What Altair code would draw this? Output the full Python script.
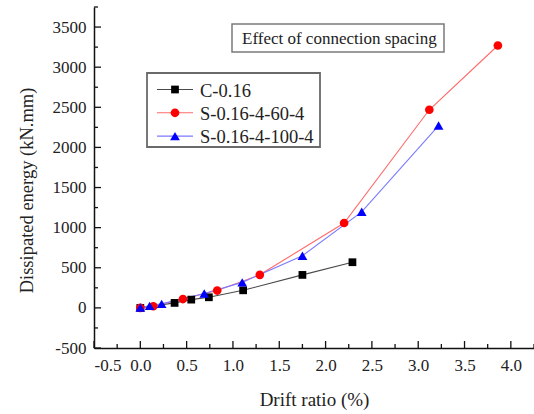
import altair as alt
import pandas as pd

# Series data: drift ratio (%) vs dissipated energy (kN.mm)
c_x = [0.0, 0.37, 0.55, 0.74, 1.11, 1.75, 2.29]
c_y = [0, 62, 103, 132, 219, 411, 569]

s60_x = [0.0, 0.14, 0.46, 0.83, 1.29, 2.20, 3.12, 3.86]
s60_y = [0, 20, 110, 216, 412, 1058, 2469, 3270]

s100_x = [0.0, 0.10, 0.23, 0.69, 1.10, 1.75, 2.39, 3.22]
s100_y = [5, 25, 50, 179, 318, 650, 1197, 2272]

series_names = ["C-0.16", "S-0.16-4-60-4", "S-0.16-4-100-4"]

x_major = [-0.5, 0.0, 0.5, 1.0, 1.5, 2.0, 2.5, 3.0, 3.5, 4.0]
x_minor = [-0.25, 0.25, 0.75, 1.25, 1.75, 2.25, 2.75, 3.25, 3.75, 4.25]
y_major = [-500, 0, 500, 1000, 1500, 2000, 2500, 3000, 3500]
y_minor = [-250, 250, 750, 1250, 1750, 2250, 2750, 3250, 3750]

FONT = "Liberation Serif"
W, H = 440, 341
line_colors = ["#4a4a4a", "#ff6a6a", "#7a7aff"]
point_colors = ["#000000", "#ff0000", "#0000ff"]
shapes = ["square", "circle", "triangle-up"]
sizes = [60, 75, 95]

X_DOMAIN = [-0.5, 4.25]
Y_DOMAIN = [-500, 3750]

# plain hyphen for negative tick labels
X_LABEL = "replace(format(datum.value, '.1f'), '\u2212', '-')"
Y_LABEL = "replace(format(datum.value, 'd'), '\u2212', '-')"


def xenc(field):
    return alt.X(
        f"{field}:Q",
        scale=alt.Scale(domain=X_DOMAIN, nice=False, zero=False),
        axis=alt.Axis(
            title="Drift ratio (%)",
            values=x_major,
            labelExpr=X_LABEL,
            grid=False,
            ticks=False,
            domainColor="#111",
            domainWidth=1.5,
            labelFont=FONT,
            labelFontSize=17,
            labelColor="#222",
            labelPadding=9,
            titleFont=FONT,
            titleFontSize=19,
            titleFontWeight="normal",
            titleColor="#222",
            titleBaseline="middle",
            titleX=220,
            titleY=51,
        ),
    )


def yenc(field):
    return alt.Y(
        f"{field}:Q",
        scale=alt.Scale(domain=Y_DOMAIN, nice=False, zero=False),
        axis=alt.Axis(
            title="Dissipated energy (kN.mm)",
            values=y_major,
            labelExpr=Y_LABEL,
            grid=False,
            ticks=False,
            domainColor="#111",
            domainWidth=1.5,
            labelFont=FONT,
            labelFontSize=17,
            labelColor="#222",
            labelPadding=8,
            titleFont=FONT,
            titleFontSize=18.5,
            titleFontWeight="normal",
            titleColor="#222",
            titleBaseline="middle",
            titleAngle=270,
            titleX=-68,
            titleY=183,
        ),
    )


rows = []
for name, xs, ys in zip(series_names, [c_x, s60_x, s100_x], [c_y, s60_y, s100_y]):
    for xv, yv in zip(xs, ys):
        rows.append({"series": name, "drift": xv, "energy": yv})
df = pd.DataFrame(rows)

layers = []

# Inward tick marks on both axes
xt = pd.DataFrame({"t": x_major + x_minor, "major": [1] * len(x_major) + [0] * len(x_minor)})
yt = pd.DataFrame({"t": y_major + y_minor, "major": [1] * len(y_major) + [0] * len(y_minor)})
for major, length in [(1, 7), (0, 4)]:
    layers.append(
        alt.Chart(xt[xt.major == major]).mark_rule(color="#111", strokeWidth=1.3).encode(
            x=xenc("t"), y=alt.value(H), y2=alt.value(H - length)
        )
    )
    layers.append(
        alt.Chart(yt[yt.major == major]).mark_rule(color="#111", strokeWidth=1.3).encode(
            y=yenc("t"), x=alt.value(0), x2=alt.value(length)
        )
    )

# Lines and markers per series
for i, name in enumerate(series_names):
    sub = df[df.series == name]
    layers.append(
        alt.Chart(sub).mark_line(color=line_colors[i], strokeWidth=1.1).encode(
            x=xenc("drift"), y=yenc("energy"), order="drift:Q"
        )
    )
for i, name in enumerate(series_names):
    sub = df[df.series == name]
    layers.append(
        alt.Chart(sub).mark_point(
            shape=shapes[i], filled=True, size=sizes[i], color=point_colors[i], opacity=1
        ).encode(x=xenc("drift"), y=yenc("energy"))
    )

# Annotation box with the figure note
note_df = pd.DataFrame({"label": ["Effect of connection spacing"]})
layers.append(
    alt.Chart(note_df).mark_rect(fill="white", stroke="#7a7a7a", strokeWidth=1.5).encode(
        x=alt.value(138), x2=alt.value(350), y=alt.value(17), y2=alt.value(45)
    )
)
layers.append(
    alt.Chart(note_df).mark_text(
        font=FONT, fontSize=17, color="#222", align="left", baseline="middle"
    ).encode(x=alt.value(148), y=alt.value(32), text="label:N")
)

# Legend box
leg_df = pd.DataFrame({"series": series_names})
layers.append(
    alt.Chart(leg_df.head(1)).mark_rect(fill="white", stroke="#6a6a6a", strokeWidth=1.8).encode(
        x=alt.value(53), x2=alt.value(226), y=alt.value(66), y2=alt.value(140)
    )
)
for i, name in enumerate(series_names):
    row = leg_df[leg_df.series == name]
    ly = 82.5 + i * 23.3
    layers.append(
        alt.Chart(row).mark_rule(color=line_colors[i], strokeWidth=1.1).encode(
            x=alt.value(63), x2=alt.value(99), y=alt.value(ly)
        )
    )
    layers.append(
        alt.Chart(row).mark_point(
            shape=shapes[i], filled=True, size=sizes[i], color=point_colors[i], opacity=1
        ).encode(x=alt.value(81), y=alt.value(ly))
    )
    layers.append(
        alt.Chart(row).mark_text(
            font=FONT, fontSize=18.5, color="#222", align="left", baseline="middle"
        ).encode(x=alt.value(106), y=alt.value(ly + 1), text="series:N")
    )

chart = (
    alt.layer(*layers)
    .properties(
        width=W,
        height=H,
        autosize=alt.AutoSizeParams(type="none"),
        padding={"left": 94, "top": 7, "right": 0, "bottom": 66},
        background="white",
    )
    .configure_view(stroke=None)
    .configure_axis(labelFont=FONT, titleFont=FONT)
)

chart.save("out.html", embed_options={"renderer": "svg", "actions": False})
